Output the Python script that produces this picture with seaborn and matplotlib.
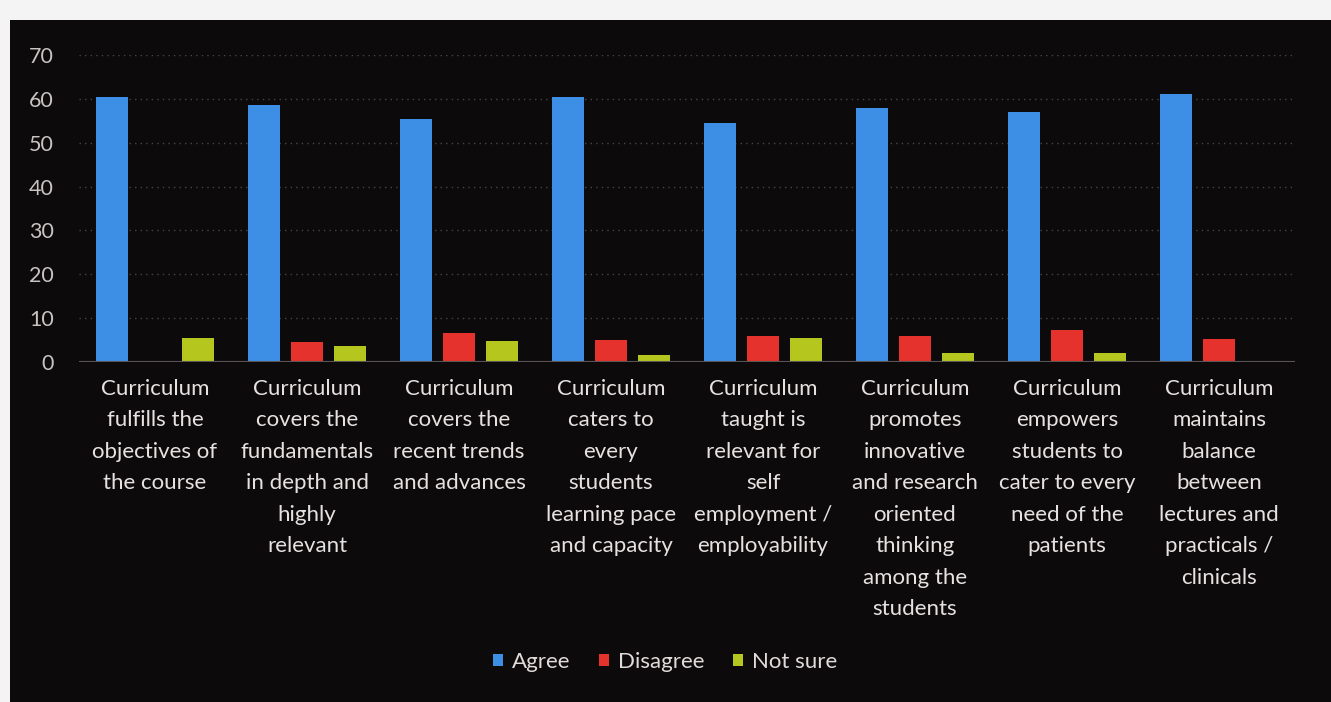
import matplotlib
matplotlib.use("Agg")
import matplotlib.pyplot as plt
import seaborn as sns
import pandas as pd
from matplotlib.patches import Rectangle

categories = [
    "Curriculum\nfulfills the\nobjectives of\nthe course",
    "Curriculum\ncovers the\nfundamentals\nin depth and\nhighly\nrelevant",
    "Curriculum\ncovers the\nrecent trends\nand advances",
    "Curriculum\ncaters to\nevery\nstudents\nlearning pace\nand capacity",
    "Curriculum\ntaught is\nrelevant for\nself\nemployment /\nemployability",
    "Curriculum\npromotes\ninnovative\nand research\noriented\nthinking\namong the\nstudents",
    "Curriculum\nempowers\nstudents to\ncater to every\nneed of the\npatients",
    "Curriculum\nmaintains\nbalance\nbetween\nlectures and\npracticals /\nclinicals",
]
series = ["Agree", "Disagree", "Not sure"]
agree = [60.5, 58.5, 55.5, 60.5, 54.5, 58, 57, 61]
disagree = [0, 4.5, 6.5, 5, 6, 6, 7.3, 5.3]
not_sure = [5.5, 3.7, 4.7, 1.5, 5.5, 2, 2, 0]
yticks = [0, 10, 20, 30, 40, 50, 60, 70]

colors = {"Agree": "#3d8fe6", "Disagree": "#e5322c", "Not sure": "#b5c61e"}

rows = []
for i, c in enumerate(categories):
    rows.append((c, "Agree", agree[i]))
    rows.append((c, "Disagree", disagree[i]))
    rows.append((c, "Not sure", not_sure[i]))
df = pd.DataFrame(rows, columns=["Category", "Response", "Value"])

sns.set_theme(style="dark")
plt.rcParams["font.family"] = ["Lato", "DejaVu Sans"]

W, H = 1331, 702
fig = plt.figure(figsize=(W / 100, H / 100), dpi=100, facecolor="#f4f4f4")
bg = Rectangle((10 / W, 0), 1 - 10 / W, 1 - 20 / H, transform=fig.transFigure,
               facecolor="#0c0a0a", edgecolor="none", zorder=-10)
fig.add_artist(bg)

ax = fig.add_axes([79 / W, 1 - 362 / H, 1216 / W, 307 / H])
ax.set_facecolor("none")
ax.patch.set_alpha(0)
sns.barplot(data=df, x="Category", y="Value", hue="Response", order=categories,
            hue_order=series, palette=colors, width=0.85, gap=0.25,
            saturation=1, ax=ax, legend=True, zorder=3,
            edgecolor="none", linewidth=0)

ax.set_ylim(0, 70)
ax.set_xlim(-0.5, 7.5)
ax.set_yticks(yticks)
ax.set_yticklabels([str(v) for v in yticks])
ax.set_xlabel("")
ax.set_ylabel("")
for s in ax.spines.values():
    s.set_visible(False)
ax.grid(axis="y", color="#4a4545", linestyle=(0, (1, 3)), linewidth=1.0, zorder=0)
ax.grid(axis="x", visible=False)
ax.axhline(0, color="#5a5555", linewidth=1.5, zorder=4)
ax.tick_params(axis="y", colors="#c8c4c4", labelsize=15.5, pad=18, length=0)
ax.tick_params(axis="x", colors="#e6e2e2", labelsize=16, pad=12, length=0)
for lab in ax.get_xticklabels():
    lab.set_linespacing(1.72)
    lab.set_ha("center")
    lab.set_va("top")

handles, labels = ax.get_legend_handles_labels()
ax.legend(handles, labels, loc="center", bbox_to_anchor=(665 / W, 1 - 662 / H),
          bbox_transform=fig.transFigure, ncol=3, frameon=False,
          handlelength=0.45, handleheight=0.45, handletextpad=0.4,
          columnspacing=1.3, fontsize=16, labelcolor="#e0dcdc")

fig.savefig("out.png", dpi=100, facecolor=fig.get_facecolor())
